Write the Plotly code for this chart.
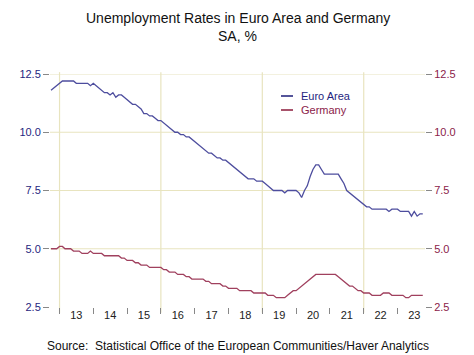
import pandas as pd
import plotly.graph_objects as go

start_month = "2012-10-01"

euro_area = [
    11.8, 11.9, 12.0,
    12.1, 12.2, 12.2, 12.2, 12.2, 12.2, 12.1, 12.1, 12.1, 12.1, 12.1, 12.0,
    12.1, 12.0, 11.9, 11.8, 11.7, 11.7, 11.6, 11.7, 11.5, 11.6, 11.6, 11.5,
    11.4, 11.3, 11.2, 11.2, 11.1, 11.0, 10.8, 10.8, 10.7, 10.7, 10.6, 10.5,
    10.5, 10.4, 10.3, 10.2, 10.1, 10.0, 10.0, 9.9, 9.9, 9.8, 9.8, 9.7,
    9.6, 9.5, 9.4, 9.3, 9.2, 9.1, 9.1, 9.0, 8.9, 8.9, 8.8, 8.8,
    8.7, 8.6, 8.5, 8.4, 8.3, 8.2, 8.1, 8.0, 8.0, 8.0, 7.9, 7.9,
    7.9, 7.8, 7.7, 7.6, 7.5, 7.5, 7.5, 7.5, 7.4, 7.5, 7.5, 7.5,
    7.5, 7.4, 7.2, 7.5, 7.7, 8.1, 8.4, 8.6, 8.6, 8.4, 8.2, 8.2,
    8.2, 8.2, 8.2, 8.2, 8.0, 7.8, 7.5, 7.4, 7.3, 7.2, 7.1, 7.0,
    6.9, 6.8, 6.8, 6.7, 6.7, 6.7, 6.7, 6.7, 6.7, 6.6, 6.7, 6.7,
    6.7, 6.6, 6.6, 6.6, 6.6, 6.4, 6.6, 6.4, 6.5, 6.5,
]

germany = [
    5.0, 5.0, 5.0,
    5.1, 5.1, 5.0, 5.0, 5.0, 4.9, 4.9, 4.9, 4.8, 4.8, 4.8, 4.9,
    4.8, 4.8, 4.8, 4.8, 4.7, 4.7, 4.7, 4.7, 4.7, 4.7, 4.6, 4.6,
    4.5, 4.5, 4.5, 4.4, 4.4, 4.3, 4.3, 4.3, 4.2, 4.2, 4.2, 4.2,
    4.2, 4.1, 4.1, 4.0, 4.0, 4.0, 3.9, 3.9, 3.9, 3.8, 3.8, 3.7,
    3.7, 3.7, 3.7, 3.7, 3.6, 3.6, 3.5, 3.5, 3.5, 3.5, 3.4, 3.4,
    3.3, 3.3, 3.3, 3.3, 3.2, 3.2, 3.2, 3.2, 3.2, 3.1, 3.1, 3.1,
    3.1, 3.1, 3.0, 3.0, 3.0, 2.9, 2.9, 2.9, 2.9, 3.0, 3.1, 3.2,
    3.2, 3.3, 3.4, 3.5, 3.6, 3.7, 3.8, 3.9, 3.9, 3.9, 3.9, 3.9,
    3.9, 3.9, 3.9, 3.8, 3.7, 3.6, 3.5, 3.4, 3.4, 3.3, 3.2, 3.2,
    3.1, 3.1, 3.1, 3.0, 3.0, 3.0, 3.0, 3.1, 3.1, 3.1, 3.0, 3.0,
    3.0, 3.0, 3.0, 2.9, 2.9, 3.0, 3.0, 3.0, 3.0, 3.0,
]

years = list(range(2013, 2024))
year_labels = [str(y)[2:] for y in years]
grid_years = [2013, 2016, 2019, 2022]
grid_levels = [5.0, 7.5, 10.0, 12.5]
y_ticks = [2.5, 5.0, 7.5, 10.0, 12.5]

EURO_LINE = "#4d4d9e"
GER_LINE = "#a0405e"
EURO_LEG = "#1c1c78"
GER_LEG = "#8b1a3a"
EURO_TEXT = "#1f1f80"
GER_TEXT = "#8b2249"
GRID = "#e8e4bf"

dates = pd.date_range(start_month, periods=len(euro_area), freq="MS")

fig = go.Figure()
fig.add_trace(go.Scatter(x=dates, y=euro_area, mode="lines", name="Euro Area",
                         line=dict(color=EURO_LINE, width=1.3), yaxis="y", showlegend=False))
fig.add_trace(go.Scatter(x=dates, y=germany, mode="lines", name="Germany",
                         line=dict(color=GER_LINE, width=1.3), yaxis="y2", showlegend=False))

shapes = []
for gy in grid_years:
    shapes.append(dict(type="line", xref="x", yref="paper", x0=f"{gy}-01-01", x1=f"{gy}-01-01",
                       y0=-0.025, y1=1.008, line=dict(color=GRID, width=1.2), layer="below"))
for gl in grid_levels:
    shapes.append(dict(type="line", xref="paper", yref="y", x0=0, x1=1, y0=gl, y1=gl,
                       line=dict(color=GRID, width=1.2), layer="below"))

# legend
legend_items = [("Euro Area", EURO_LEG, EURO_TEXT), ("Germany", GER_LEG, GER_TEXT)]
annotations = []
for i, (nm, lc, tc) in enumerate(legend_items):
    yy = 96 + 14 * i
    yp = 1 - (yy - 74) / (307 - 74)
    shapes.append(dict(type="line", xref="paper", yref="paper",
                       x0=(281 - 50) / 375, x1=(293 - 50) / 375, y0=yp, y1=yp,
                       line=dict(color=lc, width=1.5)))
    annotations.append(dict(xref="paper", yref="paper", x=(299 - 50) / 375, y=yp,
                            xanchor="left", yanchor="middle", showarrow=False,
                            text=nm, font=dict(size=11, color=tc)))

annotations.append(dict(xref="paper", yref="paper", x=0.5, y=1, yshift=56,
                        xanchor="center", yanchor="middle", showarrow=False,
                        text="Unemployment Rates in Euro Area and Germany",
                        font=dict(size=14, color="#111111")))
annotations.append(dict(xref="paper", yref="paper", x=0.5, y=1, yshift=38,
                        xanchor="center", yanchor="middle", showarrow=False,
                        text="SA, %", font=dict(size=14, color="#111111")))
annotations.append(dict(xref="paper", yref="paper", x=0.5, y=0, yshift=-39,
                        xanchor="center", yanchor="middle", showarrow=False,
                        text="Source:  Statistical Office of the European Communities/Haver Analytics",
                        font=dict(size=12, color="#111111")))

yrange = [2.5, 12.5]
fig.update_layout(
    width=474, height=355,
    margin=dict(l=50, r=49, t=74, b=48),
    paper_bgcolor="white", plot_bgcolor="white",
    font=dict(family="Liberation Sans, Arial, sans-serif", size=11),
    shapes=shapes, annotations=annotations,
    xaxis=dict(
        range=["2012-09-20", "2023-10-25"],
        tickvals=[f"{y}-07-02" for y in years], ticktext=year_labels,
        ticks="", showgrid=False, zeroline=False, showline=False,
        tickfont=dict(size=11, color="#222222"),
        minor=dict(ticks="outside", ticklen=6, tickcolor="#888888", tickwidth=1,
                   dtick="M12", tick0="2013-01-01", showgrid=False),
    ),
    yaxis=dict(
        range=yrange, tickvals=y_ticks, tickformat=".1f",
        ticks="outside", ticklen=6, tickcolor="#888888",
        showgrid=False, zeroline=False, showline=False,
        tickfont=dict(size=11, color=EURO_TEXT),
    ),
    yaxis2=dict(
        range=yrange, tickvals=y_ticks, tickformat=".1f", overlaying="y", side="right",
        ticks="outside", ticklen=6, tickcolor="#888888",
        showgrid=False, zeroline=False, showline=False,
        tickfont=dict(size=11, color=GER_TEXT),
    ),
)

fig.write_html("out.html", config={"displayModeBar": False},
               post_script="document.body.style.margin='0';document.body.style.overflow='hidden';")
